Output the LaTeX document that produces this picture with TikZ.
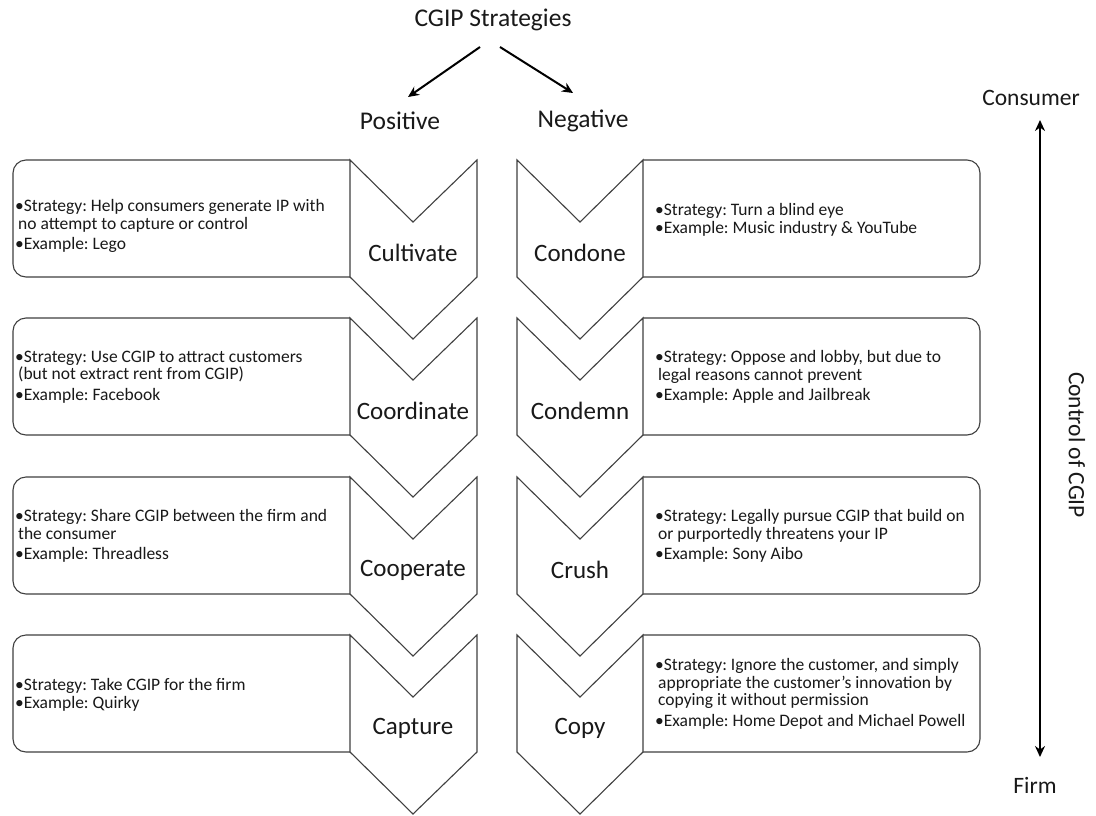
\documentclass[tikz,border=0pt]{standalone}
\usepackage{fontspec}
\setmainfont{Carlito}
\usetikzlibrary{arrows.meta}
\frenchspacing
\newcommand\leftrow[1]{%
  \draw[box] (350,#1) -- (13,#1) -- (13,#1+117) -- (350,#1+117);
  \draw[chev] (350,#1) -- (413,#1+62) -- (477,#1) -- (477,#1+117) -- (413,#1+179) -- (350,#1+117) -- cycle;}
\newcommand\rightrow[1]{%
  \draw[box] (643,#1) -- (980,#1) -- (980,#1+117) -- (643,#1+117);
  \draw[chev] (517,#1) -- (580,#1+62) -- (643,#1) -- (643,#1+117) -- (580,#1+179) -- (517,#1+117) -- cycle;}
\begin{document}
\begin{tikzpicture}[x=1pt,y=-1pt,
  box/.style={draw=black!75,line width=1.1pt,fill=white,rounded corners=13pt},
  chev/.style={draw=black!75,line width=1.1pt,fill=white,line join=miter},
  body/.style={font=\fontsize{17.5}{17.5}\selectfont\frenchspacing,align=left,inner sep=0pt,anchor=west,text=black!90},
  lab/.style={font=\fontsize{25}{28}\selectfont,inner sep=0pt,text=black!90},
  head/.style={font=\fontsize{25.5}{28}\selectfont,inner sep=0pt,text=black!90},
  side/.style={font=\fontsize{23.5}{26}\selectfont,inner sep=0pt,text=black!90},
  arr/.style={-{Stealth[length=11pt,width=10pt]}, line width=2pt},
  darr/.style={{Stealth[length=11pt,width=10pt]}-{Stealth[length=11pt,width=10pt]}, line width=2pt}]
\useasboundingbox[fill=white] (0,0) rectangle (1096,815);

% header
\node[head] (title) at (493,20) {CGIP Strategies};
\node[head] (pos) at (400,121) {Positive};
\node[head] (neg) at (583,121) {Negative};
\coordinate (ps) at (480,47);
\coordinate (pe) at (408,97);
\coordinate (ns) at (500,47);
\coordinate (ne) at (573,93);
\draw[arr] (ps) -- (pe);
\draw[arr] (ns) -- (ne);

% rows (top to bottom)
\leftrow{635}\rightrow{635}
\leftrow{477}\rightrow{477}
\leftrow{318}\rightrow{318}
\leftrow{160}\rightrow{160}

% labels
\node[lab] (cultivate) at (413,253) {Cultivate};
\node[lab] (coordinate) at (413,411) {Coordinate};
\node[lab] (cooperate) at (413,570) {Cooperate};
\node[lab] (capture) at (413,728) {Capture};
\node[lab] (condone) at (580,253) {Condone};
\node[lab] (condemn) at (580,411) {Condemn};
\node[lab] (crush) at (580,570) {Crush};
\node[lab] (copy) at (580,728) {Copy};

% body texts
\node[body] (t1) at (15,226) {•Strategy: Help consumers generate IP with\\\hspace{3pt}no attempt to capture or control\\[3pt]•Example: Lego};
\node[body] (t2) at (15,377) {•Strategy: Use CGIP to attract customers\\\hspace{3pt}(but not extract rent from CGIP)\\[3pt]•Example: Facebook};
\node[body] (t3) at (15,536) {•Strategy: Share CGIP between the firm and\\\hspace{3pt}the consumer\\[3pt]•Example: Threadless};
\node[body] (t4) at (15,695) {•Strategy: Take CGIP for the firm\\•Example: Quirky};
\node[body] (t5) at (655,220) {•Strategy: Turn a blind eye\\•Example: Music industry \& YouTube};
\node[body] (t6) at (655,377) {•Strategy: Oppose and lobby, but due to\\\hspace{3pt}legal reasons cannot prevent\\[3pt]•Example: Apple and Jailbreak};
\node[body] (t7) at (655,536) {•Strategy: Legally pursue CGIP that build on\\\hspace{3pt}or purportedly threatens your IP\\[3pt]•Example: Sony Aibo};
\node[body] (t8) at (655,694) {•Strategy: Ignore the customer, and simply\\\hspace{3pt}appropriate the customer’s innovation by\\\hspace{3pt}copying it without permission\\[3pt]•Example: Home Depot and Michael Powell};

% control axis
\node[side] (cons) at (1031,98) {Consumer};
\node[side] (firm) at (1035,785) {Firm};
\node[side,rotate=-90] (ctrl) at (1077,445) {Control of CGIP};
\coordinate (atop) at (1040,120);
\coordinate (abot) at (1040,757);
\draw[darr] (atop) -- (abot);
\end{tikzpicture}
\end{document}
